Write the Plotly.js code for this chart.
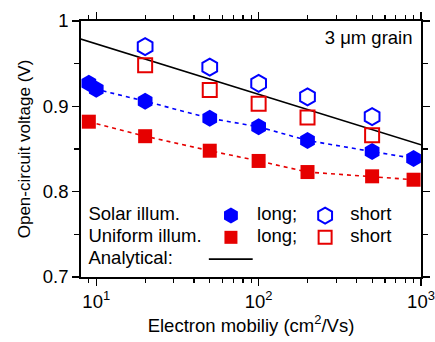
<!DOCTYPE html>
<html>
<head>
<meta charset="utf-8">
<script src="https://cdn.plot.ly/plotly-3.0.1.min.js"></script>
<style>html,body{margin:0;padding:0;background:#fff;}#chart{width:435px;height:342px;}</style>
</head>
<body>
<div id="chart"></div>
<script>
// ---- data ----
const solarLongX = [9, 10, 20, 50, 100, 200, 500, 900];
const solarLongY = [0.927, 0.920, 0.906, 0.886, 0.876, 0.860, 0.847, 0.839];
const solarShortX = [20, 50, 100, 200, 500];
const solarShortY = [0.970, 0.946, 0.927, 0.911, 0.888];
const uniformLongX = [9, 20, 50, 100, 200, 500, 900];
const uniformLongY = [0.882, 0.865, 0.848, 0.836, 0.823, 0.818, 0.814];
const uniformShortX = [20, 50, 100, 200, 500];
const uniformShortY = [0.948, 0.919, 0.903, 0.887, 0.866];
const analyticalX = [8, 1000];
const analyticalY = [0.979, 0.855];
const xTickVals = [10, 100, 1000];
const xTickText = ['10<sup>1</sup>', '10<sup>2</sup>', '10<sup>3</sup>'];
const xMinorVals = [8, 9, 20, 30, 40, 50, 60, 70, 80, 90, 200, 300, 400, 500, 600, 700, 800, 900];
const yTickVals = [0.7, 0.8, 0.9, 1.0];
const yTickText = ['0.7', '0.8', '0.9', '1'];
const legendRows = ['Solar illum.', 'Uniform illum.', 'Analytical:'];
const legendKinds = ['long;', 'short'];
const noteText = '3 \u03bcm grain';

const BLUE = '#0000ff';
const RED = '#e60000';
const FONT = 'Arial, "Liberation Sans", sans-serif';
const FS = 18.5;

// legend frame positions (fractions of the plot area)
const rowY = [0.240, 0.155, 0.070];
const colLabelX = 0.022, colSym1X = 0.441, colKind1X = 0.518, colSym2X = 0.718, colKind2X = 0.792;

const traces = [
  {x: analyticalX, y: analyticalY, mode: 'lines', line: {color: '#000', width: 1.6}},
  {x: solarLongX, y: solarLongY, mode: 'lines+markers',
   line: {color: BLUE, width: 1.6, dash: '4px,4px'},
   marker: {symbol: 'hexagon', size: 17, color: BLUE}},
  {x: uniformLongX, y: uniformLongY, mode: 'lines+markers',
   line: {color: RED, width: 1.6, dash: '4px,4px'},
   marker: {symbol: 'square', size: 14, color: RED}},
  {x: solarShortX, y: solarShortY, mode: 'markers',
   marker: {symbol: 'hexagon-open', size: 17, color: BLUE, line: {width: 2, color: BLUE}}},
  {x: uniformShortX, y: uniformShortY, mode: 'markers',
   marker: {symbol: 'square-open', size: 14, color: RED, line: {width: 2, color: RED}}},
  // legend symbols on an overlay frame
  {x: [colSym1X], y: [rowY[0]], xaxis: 'x2', yaxis: 'y2', mode: 'markers',
   marker: {symbol: 'hexagon', size: 16, color: BLUE}},
  {x: [colSym2X], y: [rowY[0]], xaxis: 'x2', yaxis: 'y2', mode: 'markers',
   marker: {symbol: 'hexagon-open', size: 16, color: BLUE, line: {width: 2, color: BLUE}}},
  {x: [colSym1X], y: [rowY[1]], xaxis: 'x2', yaxis: 'y2', mode: 'markers',
   marker: {symbol: 'square', size: 13, color: RED}},
  {x: [colSym2X], y: [rowY[1]], xaxis: 'x2', yaxis: 'y2', mode: 'markers',
   marker: {symbol: 'square-open', size: 13, color: RED, line: {width: 2, color: RED}}},
  {x: [0.376, 0.505], y: [rowY[2], rowY[2]], xaxis: 'x2', yaxis: 'y2', mode: 'lines',
   line: {color: '#000', width: 1.6}},
  // legend texts
  {x: [colLabelX, colLabelX, colLabelX, colKind1X, colKind1X, colKind2X, colKind2X],
   y: [rowY[0], rowY[1], rowY[2], rowY[0], rowY[1], rowY[0], rowY[1]],
   text: [legendRows[0], legendRows[1], legendRows[2], legendKinds[0], legendKinds[0], legendKinds[1], legendKinds[1]],
   xaxis: 'x2', yaxis: 'y2', mode: 'text', textposition: 'middle right',
   textfont: {family: FONT, size: FS, color: '#000'}, cliponaxis: false},
  {x: [0.975], y: [0.93], text: [noteText], xaxis: 'x2', yaxis: 'y2', mode: 'text',
   textposition: 'middle left', textfont: {family: FONT, size: FS, color: '#000'}, cliponaxis: false}
];

const layout = {
  width: 435, height: 342,
  margin: {l: 81, r: 14, t: 21, b: 65},
  paper_bgcolor: '#fff', plot_bgcolor: '#fff',
  showlegend: false,
  font: {family: FONT, size: FS, color: '#000'},
  xaxis: {
    type: 'log', range: [0.906, 3],
    tickmode: 'array', tickvals: xTickVals, ticktext: xTickText,
    ticks: 'outside', ticklen: 7, tickwidth: 1.5, tickcolor: '#000',
    minor: {tickmode: 'array', tickvals: xMinorVals, ticks: 'outside', ticklen: 4, tickwidth: 1.2, tickcolor: '#000', showgrid: false},
    showline: true, linecolor: '#000', linewidth: 1.8, mirror: 'ticks',
    showgrid: false, zeroline: false,
    tickfont: {family: FONT, size: FS},
    title: {text: 'Electron mobiliy (cm<sup>2</sup>/Vs)', font: {family: FONT, size: FS}, standoff: 8}
  },
  yaxis: {
    range: [0.7, 1.0],
    tickmode: 'array', tickvals: yTickVals, ticktext: yTickText,
    ticks: 'outside', ticklen: 7, tickwidth: 1.5, tickcolor: '#000',
    minor: {dtick: 0.05, ticks: 'outside', ticklen: 5, tickwidth: 1.2, tickcolor: '#000', showgrid: false},
    showline: true, linecolor: '#000', linewidth: 1.8, mirror: 'ticks',
    showgrid: false, zeroline: false,
    tickfont: {family: FONT, size: FS},
    title: {text: 'Open-circuit voltage (V)', font: {family: FONT, size: 17}, standoff: 8}
  },
  xaxis2: {overlaying: 'x', range: [0, 1], visible: false, fixedrange: true},
  yaxis2: {overlaying: 'y', range: [0, 1], visible: false, fixedrange: true}
};

Plotly.newPlot('chart', traces, layout, {staticPlot: true, displayModeBar: false});
</script>
</body>
</html>
